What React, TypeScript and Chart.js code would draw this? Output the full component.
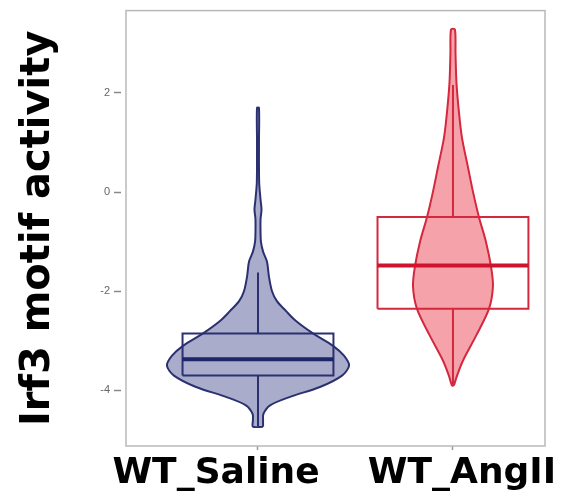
import React, { useEffect, useRef } from "react";
import { Chart, registerables } from "chart.js";

Chart.register(...registerables);

// ---- data ----
const categories = ["WT_Saline", "WT_AngII"];
const yTicks = [-4, -2, 0, 2];
const yAxisTitle = "Irf3 motif activity";

// violin outline: activity levels (bottom to top) and kernel half-widths (x-axis units)
const salineViolinY = [-4.73, -4.6, -4.47, -4.3, -4.13, -3.93, -3.7, -3.5, -3.3, -3.1, -2.85, -2.6, -2.4, -2.2, -2.0, -1.7, -1.4, -1.2, -1.0, -0.8, -0.55, -0.35, -0.15, 0.2, 1.0, 1.7];
const salineViolinWidth = [0.026, 0.026, 0.028, 0.062, 0.164, 0.318, 0.431, 0.467, 0.441, 0.385, 0.282, 0.195, 0.144, 0.097, 0.072, 0.056, 0.046, 0.026, 0.015, 0.013, 0.013, 0.018, 0.013, 0.006, 0.005, 0.005];
const angiiViolinY = [-3.9, -3.7, -3.4, -2.9, -2.35, -1.9, -1.5, -1.0, -0.5, 0.0, 0.5, 1.1, 1.6, 2.2, 2.8, 3.28];
const angiiViolinWidth = [0.005, 0.021, 0.051, 0.118, 0.185, 0.205, 0.195, 0.169, 0.133, 0.103, 0.077, 0.046, 0.031, 0.018, 0.013, 0.01];

// [lower whisker, Q1, median, Q3, upper whisker]
const salineBoxStats = [-4.73, -3.7, -3.37, -2.85, -1.62];
const angiiBoxStats = [-3.88, -2.35, -1.48, -0.5, 2.16];

// ---- styling ----
const BOX_HALF = 0.387;
const styles = [
  { fill: "#a9acca", stroke: "#2b3170", median: "#1d2668" },
  { fill: "#f6a2ab", stroke: "#d3283d", median: "#cf132c" },
];

function violinPoints(center: number, ys: number[], ws: number[]) {
  const right = ys.map((y, i) => ({ x: center + ws[i], y }));
  const left = ys.map((y, i) => ({ x: center - ws[i], y })).reverse();
  return [...right, ...left, right[0]];
}

function buildDatasets() {
  const groups = [
    { y: salineViolinY, w: salineViolinWidth, s: salineBoxStats },
    { y: angiiViolinY, w: angiiViolinWidth, s: angiiBoxStats },
  ];
  const ds: any[] = [];
  groups.forEach((g, i) => {
    const c = i + 1;
    const st = styles[i];
    const [lo, q1, med, q3, hi] = g.s;
    ds.push({
      label: categories[i] + " violin",
      data: violinPoints(c, g.y, g.w),
      borderColor: st.stroke,
      backgroundColor: st.fill,
      borderWidth: 2,
      fill: "shape",
      tension: 0.3,
      pointRadius: 0,
      order: 10,
    });
    ds.push({
      label: categories[i] + " whisker low",
      data: [{ x: c, y: lo }, { x: c, y: q1 }],
      borderColor: st.stroke,
      borderWidth: 2,
      fill: false,
      pointRadius: 0,
      order: 5,
    });
    ds.push({
      label: categories[i] + " whisker high",
      data: [{ x: c, y: q3 }, { x: c, y: hi }],
      borderColor: st.stroke,
      borderWidth: 2,
      fill: false,
      pointRadius: 0,
      order: 5,
    });
    ds.push({
      label: categories[i] + " box",
      data: [
        { x: c - BOX_HALF, y: q1 },
        { x: c + BOX_HALF, y: q1 },
        { x: c + BOX_HALF, y: q3 },
        { x: c - BOX_HALF, y: q3 },
        { x: c - BOX_HALF, y: q1 },
      ],
      borderColor: st.stroke,
      borderWidth: 2,
      fill: false,
      pointRadius: 0,
      order: 3,
    });
    ds.push({
      label: categories[i] + " median",
      data: [{ x: c - BOX_HALF, y: med }, { x: c + BOX_HALF, y: med }],
      borderColor: st.median,
      borderWidth: 4,
      fill: false,
      pointRadius: 0,
      order: 1,
    });
  });
  return ds;
}

const framePlugin = {
  id: "frame",
  beforeDatasetsDraw(chart: any) {
    const { ctx, chartArea: a } = chart;
    ctx.save();
    ctx.strokeStyle = "#b9b9b9";
    ctx.lineWidth = 1.5;
    ctx.strokeRect(a.left, a.top, a.right - a.left, a.bottom - a.top);
    ctx.restore();
  },
};

const LABEL_SHIFT = [-42, 9];
const categoryLabelPlugin = {
  id: "categoryLabels",
  afterDraw(chart: any) {
    const { ctx, chartArea } = chart;
    const xs = chart.scales.x;
    ctx.save();
    ctx.font = 'bold 36px "DejaVu Sans"';
    ctx.fillStyle = "#000";
    ctx.textAlign = "center";
    ctx.textBaseline = "alphabetic";
    categories.forEach((name, i) => {
      ctx.fillText(name, xs.getPixelForValue(i + 1) + LABEL_SHIFT[i], chartArea.bottom + 37);
    });
    ctx.restore();
  },
};

export default function App() {
  const ref = useRef<HTMLCanvasElement | null>(null);
  useEffect(() => {
    if (!ref.current) return;
    const chart = new Chart(ref.current, {
      type: "line",
      data: { datasets: buildDatasets() },
      options: {
        animation: false,
        responsive: true,
        maintainAspectRatio: false,
        events: [],
        layout: { padding: { top: 7, right: 16, left: 0, bottom: 0 } },
        plugins: { legend: { display: false }, tooltip: { enabled: false } },
        scales: {
          x: {
            type: "linear",
            min: 0.323,
            max: 2.472,
            afterFit: (s: any) => {
              s.height = 57;
            },
            afterBuildTicks: (s: any) => {
              s.ticks = categories.map((_, i) => ({ value: i + 1 }));
            },
            ticks: { display: false },
            border: { display: false },
            grid: { drawOnChartArea: false, tickLength: 4, tickColor: "#999", tickWidth: 1.5 },
          },
          y: {
            type: "linear",
            min: -5.12,
            max: 3.66,
            afterFit: (s: any) => {
              s.width = 126;
            },
            afterBuildTicks: (s: any) => {
              s.ticks = yTicks.map((v) => ({ value: v }));
            },
            ticks: {
              color: "#666",
              font: { size: 11, family: '"Liberation Sans", Arial, sans-serif' },
              padding: 4,
            },
            border: { display: false },
            grid: {
              drawOnChartArea: false,
              tickLength: 12,
              tickBorderDash: [7, 100],
              tickColor: "#888",
              tickWidth: 1.5,
            },
            title: {
              display: true,
              text: yAxisTitle,
              color: "#000",
              font: { family: '"DejaVu Sans"', weight: "bold", size: 40 },
              padding: { top: 15, bottom: 0 },
            },
          },
        },
      } as any,
      plugins: [framePlugin, categoryLabelPlugin],
    });
    return () => chart.destroy();
  }, []);
  return (
    <div style={{ position: "fixed", left: 0, top: 0, width: 561, height: 503 }}>
      <canvas ref={ref} />
    </div>
  );
}
